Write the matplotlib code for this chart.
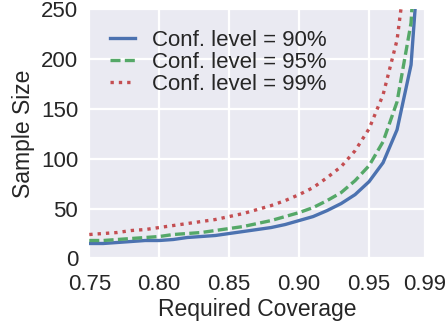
import matplotlib
matplotlib.use("Agg")
import matplotlib.pyplot as plt

# Required coverage levels (x) and minimum sample sizes for each confidence level
coverage = [0.75, 0.76, 0.77, 0.78, 0.79, 0.80, 0.81, 0.82, 0.83, 0.84,
            0.85, 0.86, 0.87, 0.88, 0.89, 0.90, 0.91, 0.92, 0.93, 0.94,
            0.95, 0.96, 0.97, 0.98, 0.99]
n_conf90 = [15, 15, 16, 17, 18, 18, 19, 21, 22, 23,
            25, 27, 29, 31, 34, 38, 42, 48, 55, 64,
            77, 96, 129, 194, 388]
n_conf95 = [18, 18, 19, 20, 21, 22, 24, 25, 26, 28,
            30, 32, 35, 38, 42, 46, 51, 58, 66, 78,
            93, 117, 157, 236, 473]
n_conf99 = [24, 25, 26, 28, 29, 31, 33, 35, 37, 39,
            42, 45, 49, 53, 58, 64, 71, 81, 92, 108,
            130, 164, 219, 330, 662]

labels = ["Conf. level = 90%", "Conf. level = 95%", "Conf. level = 99%"]
x_ticks = [0.75, 0.80, 0.85, 0.90, 0.95, 0.99]
y_ticks = [0, 50, 100, 150, 200, 250]

plt.rcParams["font.family"] = ["Liberation Sans", "DejaVu Sans"]
plt.rcParams["text.color"] = "#262626"

fig = plt.figure(figsize=(4.46, 3.28), dpi=100)
ax = fig.add_axes([0.2002, 0.212, 0.7528, 0.7606])
ax.set_facecolor("#EAEAF2")
for s in ax.spines.values():
    s.set_visible(False)
ax.grid(True, color="white", linewidth=1.6)
ax.set_axisbelow(True)

lw = 2.4
ax.plot(coverage, n_conf90, color="#4C72B0", lw=lw, ls="-", label=labels[0])
ax.plot(coverage, n_conf95, color="#55A868", lw=lw, ls=(0, (3.0, 1.3)), label=labels[1])
ax.plot(coverage, n_conf99, color="#C44E52", lw=lw, ls=(0, (1, 1.5)), label=labels[2])

ax.set_xlim(0.75, 0.99)
ax.set_ylim(0, 250)
ax.set_xticks(x_ticks)
ax.set_xticklabels([f"{t:.2f}" for t in x_ticks])
ax.set_yticks(y_ticks)
ax.tick_params(length=0, labelsize=16, colors="#262626")
ax.tick_params(axis="x", pad=11)
ax.tick_params(axis="y", pad=8)

ax.set_xlabel("Required Coverage", fontsize=16.5, color="#262626", labelpad=2.5)
ax.set_ylabel("Sample Size", fontsize=16.5, color="#262626", labelpad=4.5)

ax.legend(loc="upper left", frameon=False, fontsize=16, handlelength=1.15,
          handletextpad=0.75, labelspacing=0.05, borderaxespad=0.3,
          bbox_to_anchor=(0.015, 0.98))

fig.savefig("out.png", dpi=100)
